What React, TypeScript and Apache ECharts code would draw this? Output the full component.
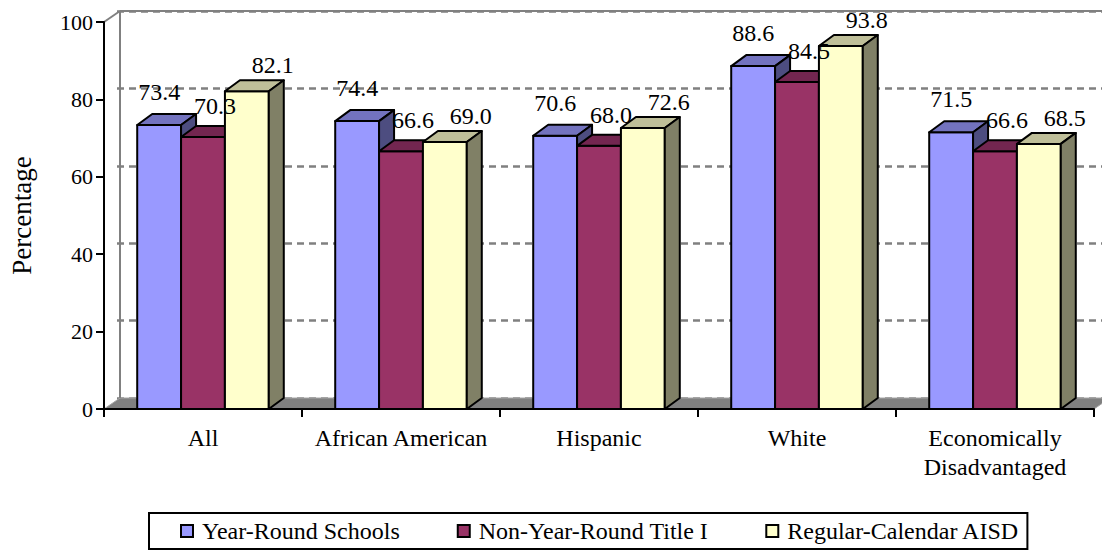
import React, { useEffect, useRef } from "react";
import * as echarts from "echarts";

// ---- data -------------------------------------------------------------
const categories = [
  "All",
  "African American",
  "Hispanic",
  "White",
  "Economically\nDisadvantaged",
];
const seriesNames = [
  "Year-Round Schools",
  "Non-Year-Round Title I",
  "Regular-Calendar AISD",
];
const yearRoundSchools = [73.4, 74.4, 70.6, 88.6, 71.5];
const nonYearRoundTitleI = [70.3, 66.6, 68.0, 84.5, 66.6];
const regularCalendarAISD = [82.1, 69.0, 72.6, 93.8, 68.5];
const valueMin = 0;
const valueMax = 100;
const valueStep = 20;

// ---- styling ----------------------------------------------------------
const FONT = "Liberation Serif";
const faces = [
  { front: "#9999FF", top: "#7373BF", side: "#4D4D80" },
  { front: "#993366", top: "#732650", side: "#4D1A33" },
  { front: "#FFFFCC", top: "#BFBF99", side: "#808066" },
];
// oblique projection of the depth axis
const BAR_DX = 15;
const BAR_DY = -11;
const WALL_DX = 16;
const WALL_DY = -11;
const BAR_FRACTION = 0.2215; // bar width as a share of the category band
const labelShift = [
  [0, -33],
  [12, -31],
  [26, -26],
];

const allSeries = [yearRoundSchools, nonYearRoundTitleI, regularCalendarAISD];

const edge = { stroke: "#000", lineWidth: 2, lineJoin: "round" as const };

function barGeometry(api: any, cat: number, val: number, s: number) {
  const top = api.coord([cat, val]);
  const base = api.coord([cat, 0]);
  const band = api.size([1, 0])[0];
  const w = band * BAR_FRACTION;
  const x0 = top[0] - 1.5 * w + s * w;
  return { x0, x1: x0 + w, yT: top[1], yB: base[1] };
}

function makeBarRenderer(s: number) {
  return (params: any, api: any) => {
    const cat = api.value(0);
    const val = api.value(1);
    const { x0, x1, yT, yB } = barGeometry(api, cat, val, s);
    const f = faces[s];
    return {
      type: "group",
      children: [
        {
          type: "polygon",
          shape: { points: [[x0, yB], [x1, yB], [x1, yT], [x0, yT]] },
          style: { fill: f.front, ...edge },
        },
        {
          type: "polygon",
          shape: {
            points: [
              [x0, yT],
              [x1, yT],
              [x1 + BAR_DX, yT + BAR_DY],
              [x0 + BAR_DX, yT + BAR_DY],
            ],
          },
          style: { fill: f.top, ...edge },
        },
        {
          type: "polygon",
          shape: {
            points: [
              [x1, yB],
              [x1 + BAR_DX, yB + BAR_DY],
              [x1 + BAR_DX, yT + BAR_DY],
              [x1, yT],
            ],
          },
          style: { fill: f.side, ...edge },
        },
      ],
    };
  };
}

// value labels for the three bars of one category
function renderLabels(params: any, api: any) {
  const cat = api.value(0);
  const children = [0, 1, 2].map((s) => {
    const val = api.value(s + 1);
    const { x0, x1, yT } = barGeometry(api, cat, val, s);
    return {
      type: "text",
      x: (x0 + x1) / 2 + labelShift[s][0],
      y: yT + labelShift[s][1],
      style: {
        text: Number(val).toFixed(1),
        fill: "#000",
        fontSize: 24,
        fontFamily: FONT,
        align: "center",
        verticalAlign: "middle",
      },
    };
  });
  return { type: "group", children };
}

// floor and wall edges of the plot box
function renderFrame(params: any, api: any) {
  const { x, y, width: w, height: h } = params.coordSys;
  const gray = "#808080";
  return {
    type: "group",
    children: [
      {
        type: "polygon",
        shape: {
          points: [
            [x, y + h],
            [x + w, y + h],
            [x + w + WALL_DX, y + h + WALL_DY],
            [x + WALL_DX, y + h + WALL_DY],
          ],
        },
        style: { fill: gray, stroke: "#a6a6a6", lineWidth: 1 },
      },
      {
        type: "line",
        shape: { x1: x + WALL_DX, y1: y + WALL_DY, x2: x + WALL_DX, y2: y + h + WALL_DY },
        style: { stroke: gray, lineWidth: 2 },
      },
      {
        type: "line",
        shape: { x1: x + WALL_DX, y1: y + WALL_DY, x2: x + w + WALL_DX, y2: y + WALL_DY },
        style: { stroke: gray, lineWidth: 2 },
      },
      {
        type: "line",
        shape: { x1: x, y1: y, x2: x + WALL_DX, y2: y + WALL_DY },
        style: { stroke: gray, lineWidth: 2 },
      },
    ],
  };
}

export default function App() {
  const ref = useRef<HTMLDivElement>(null);

  useEffect(() => {
    if (!ref.current) return;
    const chart = echarts.init(ref.current, undefined, { renderer: "svg" });

    const gridFront = { left: 101, right: 8, top: 22, bottom: 143 };
    const gridBack = {
      left: 101 + WALL_DX,
      right: 8 - WALL_DX,
      top: 22 + WALL_DY,
      bottom: 143 - WALL_DY,
    };

    const barSeries = allSeries.map((values, s) => ({
      type: "custom",
      name: seriesNames[s],
      xAxisIndex: 0,
      yAxisIndex: 0,
      z: 2,
      clip: false,
      itemStyle: { color: faces[s].front, borderColor: "#000", borderWidth: 2 },
      encode: { x: 0, y: 1 },
      data: values.map((v, i) => [i, v]),
      renderItem: makeBarRenderer(s),
    }));

    chart.setOption({
      animation: false,
      backgroundColor: "#fff",
      textStyle: { fontFamily: FONT, color: "#000" },
      grid: [
        { ...gridFront, containLabel: false },
        { ...gridBack, containLabel: false },
      ],
      xAxis: [
        {
          type: "category",
          gridIndex: 0,
          data: categories,
          z: 5,
          axisLine: { show: true, lineStyle: { color: "#000", width: 2 } },
          axisTick: {
            show: true,
            interval: 0,
            length: 8,
            lineStyle: { color: "#000", width: 2 },
          },
          axisLabel: {
            interval: 0,
            margin: 14,
            color: "#000",
            fontSize: 24,
            lineHeight: 29,
            fontFamily: FONT,
          },
        },
        {
          type: "category",
          gridIndex: 1,
          data: categories,
          show: false,
        },
      ],
      yAxis: [
        {
          type: "value",
          gridIndex: 0,
          min: valueMin,
          max: valueMax,
          interval: valueStep,
          z: 5,
          name: "Percentage",
          nameLocation: "middle",
          nameGap: 69,
          nameTextStyle: { fontSize: 27, color: "#000", fontFamily: FONT },
          axisLine: { show: true, lineStyle: { color: "#000", width: 2 } },
          axisTick: { show: true, length: 8, lineStyle: { color: "#000", width: 2 } },
          axisLabel: {
            margin: 11,
            color: "#000",
            fontSize: 22,
            fontFamily: FONT,
          },
          splitLine: { show: false },
        },
        {
          type: "value",
          gridIndex: 1,
          min: valueMin,
          max: valueMax,
          interval: valueStep,
          axisLine: { show: false },
          axisTick: { show: false },
          axisLabel: { show: false },
          splitLine: {
            show: true,
            lineStyle: { color: "#808080", width: 2.5, type: [7, 5] },
          },
        },
      ],
      legend: {
        data: seriesNames,
        left: 149,
        top: 513,
        orient: "horizontal",
        padding: [6, 8, 6, 31],
        borderColor: "#000",
        borderWidth: 2,
        icon: "rect",
        itemWidth: 12,
        itemHeight: 12,
        itemGap: 57,
        itemStyle: { borderColor: "#000", borderWidth: 2 },
        textStyle: {
          fontSize: 24,
          color: "#000",
          fontFamily: FONT,
          padding: [0, 0, 0, 4],
        },
      },
      series: [
        {
          type: "custom",
          name: "frame",
          xAxisIndex: 0,
          yAxisIndex: 0,
          z: 1,
          silent: true,
          clip: false,
          data: [[0, 0]],
          encode: { x: 0, y: 1 },
          renderItem: renderFrame,
        },
        ...barSeries,
        {
          type: "custom",
          name: "labels",
          xAxisIndex: 0,
          yAxisIndex: 0,
          z: 3,
          silent: true,
          clip: false,
          encode: { x: 0, y: [1, 2, 3] },
          data: categories.map((_, i) => [
            i,
            yearRoundSchools[i],
            nonYearRoundTitleI[i],
            regularCalendarAISD[i],
          ]),
          renderItem: renderLabels,
        },
      ],
    });

    return () => chart.dispose();
  }, []);

  return (
    <div
      ref={ref}
      style={{ position: "absolute", left: 0, top: 0, width: 1102, height: 552 }}
    />
  );
}
